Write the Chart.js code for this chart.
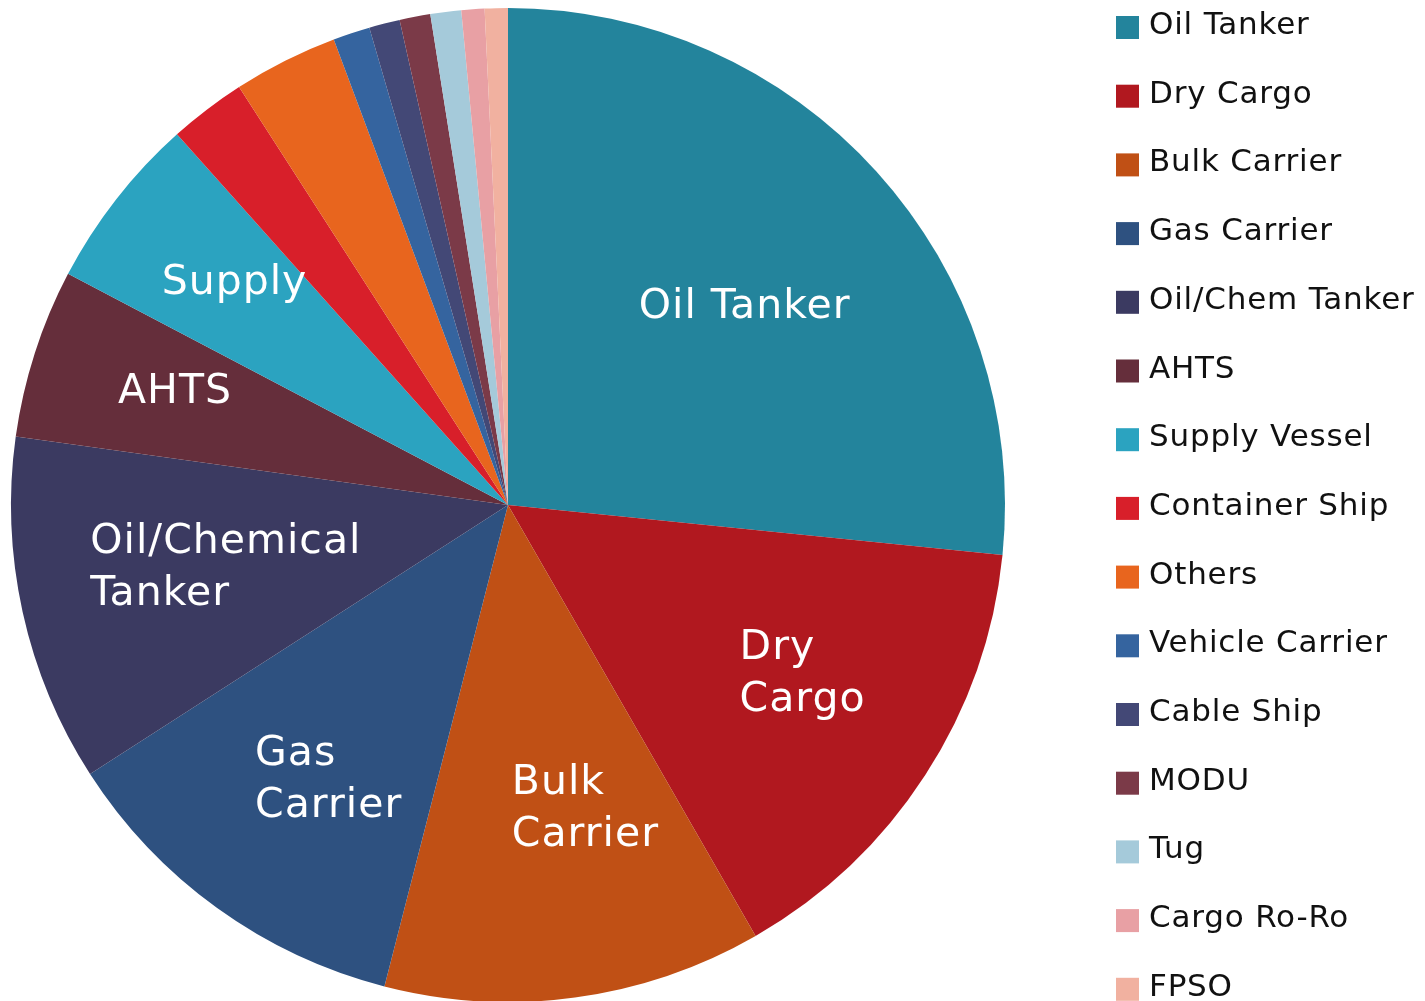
<!DOCTYPE html>
<html>
<head>
<meta charset="utf-8">
<title>Fleet by vessel type</title>
<script src="https://cdn.jsdelivr.net/npm/chart.js@4.4.1/dist/chart.umd.min.js"></script>
<style>
    html, body { margin: 0; padding: 0; background: #fff; overflow: hidden; }
    #wrap { position: absolute; left: 0; top: 0; width: 1425px; height: 1010px; }
</style>
</head>
<body>
<div id="wrap"><canvas id="fleetChart"></canvas></div>
<script>
// Vessel types, clockwise from 12 o'clock (same order as the legend)
const vesselTypes = ["Oil Tanker", "Dry Cargo", "Bulk Carrier", "Gas Carrier", "Oil/Chem Tanker",
    "AHTS", "Supply Vessel", "Container Ship", "Others", "Vehicle Carrier",
    "Cable Ship", "MODU", "Tug", "Cargo Ro-Ro", "FPSO"];

// Share of fleet (%)
const fleetShare = [26.6, 15.1, 12.3, 11.9, 11.3, 5.5, 5.7, 2.5, 3.4, 1.2, 1.0, 1.0, 1.0, 0.75, 0.75];

const sliceColors = ["#23849C", "#B1181F", "#C05015", "#2E5180", "#3B3A61",
    "#652E3B", "#2BA3C0", "#D81F2A", "#E8651E", "#35649F",
    "#434876", "#7B3A48", "#A5CADA", "#E8A0A4", "#F1B1A0"];

// Text written inside the bigger slices ("\n" = line break)
const sliceLabels = ["Oil Tanker", "Dry\nCargo", "Bulk\nCarrier", "Gas\nCarrier", "Oil/Chemical\nTanker",
    "AHTS", "Supply", "", "", "", "", "", "", "", ""];

// [fraction of radius, angle nudge in degrees] for each inside label
const labelPlacement = [[0.625, 1.75], [0.68, -3.6], [0.625, -6.7], [0.655, -2.4], [0.58, 0.6],
    [0.71, 1.5], [0.713, 1.5]];

const FONT = "'DejaVu Sans', sans-serif";

// Inside labels, placed along each arc's middle angle
const sliceLabelPlugin = {
    id: 'sliceLabels',
    afterDatasetsDraw(chart) {
        const ctx = chart.ctx;
        const arcs = chart.getDatasetMeta(0).data;
        ctx.save();
        ctx.fillStyle = '#ffffff';
        ctx.font = '41px ' + FONT;
        ctx.letterSpacing = '1px';
        ctx.textAlign = 'left';
        ctx.textBaseline = 'middle';
        arcs.forEach(function(arc, i) {
            if (!sliceLabels[i]) return;
            const p = arc.getProps(['x', 'y', 'startAngle', 'endAngle', 'outerRadius'], true);
            const place = labelPlacement[i];
            const mid = (p.startAngle + p.endAngle) / 2 + place[1] * Math.PI / 180;
            const cx = p.x + Math.cos(mid) * p.outerRadius * place[0];
            const cy = p.y + Math.sin(mid) * p.outerRadius * place[0] + 4;
            const lines = sliceLabels[i].split('\n');
            const lineHeight = 52;
            const width = Math.max.apply(null, lines.map(function(l) { return ctx.measureText(l).width; }));
            const left = cx - width / 2;
            const top = cy - (lines.length - 1) * lineHeight / 2;
            lines.forEach(function(l, j) {
                ctx.fillText(l, left, top + j * lineHeight);
            });
        });
        ctx.restore();
    }
};

// Single column legend down the right edge
const sideLegendPlugin = {
    id: 'sideLegend',
    afterDraw(chart) {
        const ctx = chart.ctx;
        const ds = chart.data.datasets[0];
        const boxX = 1116, textX = 1149, firstTop = 16, step = 68.7, box = 23;
        ctx.save();
        ctx.font = '31px ' + FONT;
        ctx.letterSpacing = '0.8px';
        ctx.textAlign = 'left';
        ctx.textBaseline = 'alphabetic';
        chart.data.labels.forEach(function(label, i) {
            const y = firstTop + i * step;
            ctx.fillStyle = ds.backgroundColor[i];
            ctx.fillRect(boxX, y, box, box);
            ctx.fillStyle = '#111111';
            ctx.fillText(label, textX, y + 18);
        });
        ctx.restore();
    }
};

new Chart(document.getElementById('fleetChart'), {
    type: 'pie',
    data: {
        labels: vesselTypes,
        datasets: [{
            data: fleetShare,
            backgroundColor: sliceColors,
            borderWidth: 0,
            hoverOffset: 0,
            offset: 0
        }]
    },
    options: {
        responsive: true,
        maintainAspectRatio: false,
        animation: false,
        layout: {
            padding: { left: 11, top: 8, right: 420, bottom: 8 }
        },
        plugins: {
            legend: { display: false },
            tooltip: { enabled: false }
        }
    },
    plugins: [sliceLabelPlugin, sideLegendPlugin]
});
</script>
</body>
</html>
